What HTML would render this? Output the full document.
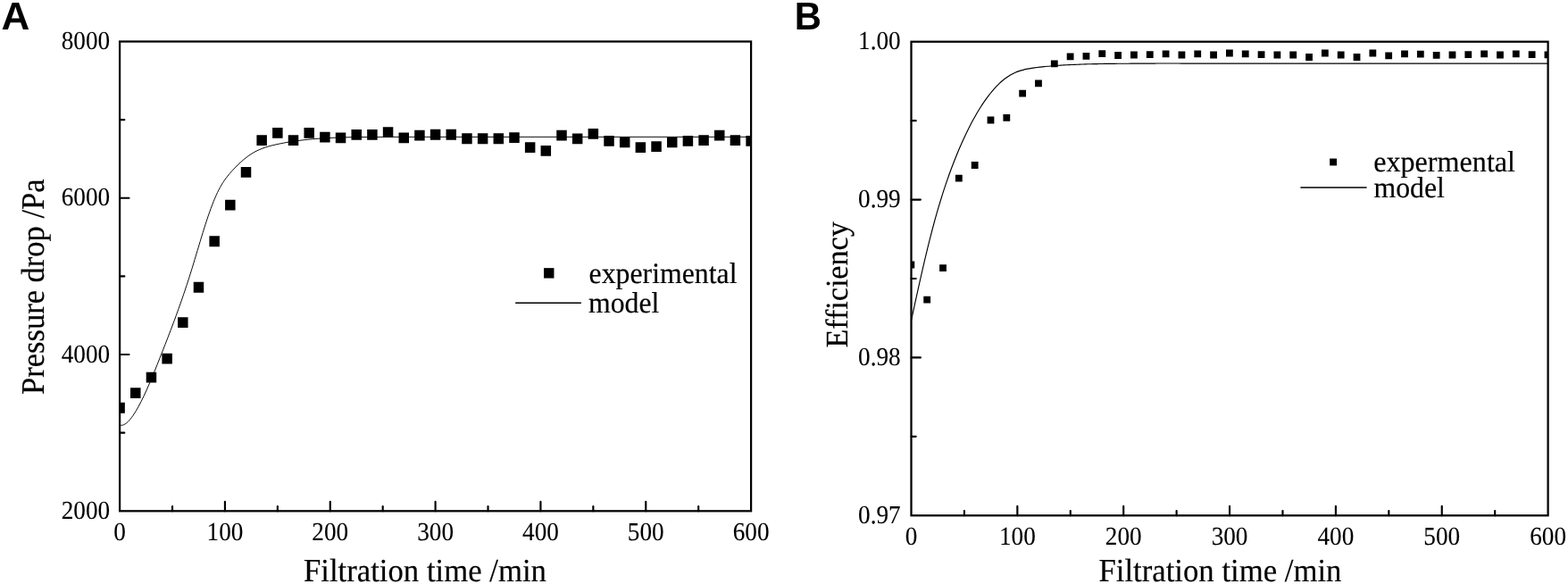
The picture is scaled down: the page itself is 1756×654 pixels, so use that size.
<!DOCTYPE html>
<html lang="en">
<head>
<meta charset="utf-8">
<title>Figure: pressure drop and efficiency vs filtration time</title>
<style>
html,body{margin:0;padding:0;background:#fff;}
body{width:1756px;height:654px;overflow:hidden;}
svg{display:block;}
</style>
</head>
<body>
<svg width="1756" height="654" viewBox="0 0 1756 654" font-family='"Liberation Serif", serif' fill="#000" text-rendering="geometricPrecision">
<rect width="1756" height="654" fill="#fff"/>
<defs>
<clipPath id="ca"><rect x="134.1" y="46.5" width="707.00" height="525.80"/></clipPath>
<clipPath id="cb"><rect x="1020.5" y="46.7" width="713.10" height="530.60"/></clipPath>
</defs>
<g font-family='"Liberation Sans", sans-serif' font-weight="bold">
<text transform="translate(1.40 32.60) scale(1.008 1)" font-size="43.7">A</text>
<text transform="translate(889.80 32.60) scale(0.955 1)" font-size="43.7">B</text>
</g>
<g clip-path="url(#ca)">
<path d="M134.10 476.25C134.60 476.24 136.10 476.40 137.10 476.17C138.10 475.94 139.10 475.48 140.10 474.87C141.10 474.26 142.10 473.45 143.10 472.51C144.10 471.57 145.10 470.46 146.10 469.23C147.10 468.01 148.10 466.64 149.10 465.19C150.10 463.73 151.10 462.16 152.10 460.51C153.10 458.86 154.10 457.11 155.10 455.29C156.10 453.47 157.10 451.56 158.10 449.59C159.10 447.61 160.10 445.56 161.10 443.45C162.10 441.35 163.10 439.17 164.10 436.94C165.10 434.72 166.10 432.44 167.10 430.12C168.10 427.80 169.10 425.42 170.10 423.02C171.10 420.62 172.10 418.18 173.10 415.72C174.10 413.26 175.10 410.76 176.10 408.26C177.10 405.75 178.10 403.23 179.10 400.70C180.10 398.17 181.10 395.63 182.10 393.09C183.10 390.54 184.10 387.99 185.10 385.43C186.10 382.86 187.10 380.29 188.10 377.70C189.10 375.10 190.10 372.50 191.10 369.87C192.10 367.24 193.10 364.59 194.10 361.91C195.10 359.23 196.10 356.54 197.10 353.80C198.10 351.07 199.10 348.31 200.10 345.52C201.10 342.72 202.10 339.89 203.10 337.03C204.10 334.16 205.10 331.25 206.10 328.30C207.10 325.35 208.10 322.37 209.10 319.33C210.10 316.29 211.10 313.20 212.10 310.06C213.10 306.93 214.10 303.73 215.10 300.49C216.10 297.25 217.10 293.94 218.10 290.62C219.10 287.30 220.10 283.93 221.10 280.59C222.10 277.24 223.10 273.87 224.10 270.55C225.10 267.23 226.10 263.91 227.10 260.67C228.10 257.43 229.10 254.21 230.10 251.11C231.10 248.01 232.10 244.96 233.10 242.04C234.10 239.12 235.10 236.29 236.10 233.58C237.10 230.87 238.10 228.26 239.10 225.78C240.10 223.31 241.10 220.94 242.10 218.72C243.10 216.49 244.10 214.39 245.10 212.43C246.10 210.48 247.10 208.68 248.10 206.98C249.10 205.29 250.10 203.75 251.10 202.29C252.10 200.82 253.10 199.48 254.10 198.19C255.10 196.89 256.10 195.70 257.10 194.53C258.10 193.36 259.10 192.26 260.10 191.17C261.10 190.08 262.10 189.01 263.10 187.98C264.10 186.94 265.10 185.92 266.10 184.94C267.10 183.95 268.10 183.00 269.10 182.07C270.10 181.15 271.10 180.25 272.10 179.39C273.10 178.53 274.10 177.70 275.10 176.91C276.10 176.12 277.10 175.36 278.10 174.64C279.10 173.92 280.10 173.24 281.10 172.60C282.10 171.95 283.10 171.35 284.10 170.78C285.10 170.21 286.10 169.68 287.10 169.17C288.10 168.67 289.10 168.20 290.10 167.75C291.10 167.31 292.10 166.89 293.10 166.50C294.10 166.11 295.10 165.74 296.10 165.40C297.10 165.05 298.10 164.73 299.10 164.42C300.10 164.12 301.10 163.83 302.10 163.56C303.10 163.29 304.10 163.03 305.10 162.78C306.10 162.54 307.10 162.30 308.10 162.08C309.10 161.85 310.10 161.63 311.10 161.42C312.10 161.20 313.10 161.00 314.10 160.80C315.10 160.60 316.10 160.40 317.10 160.21C318.10 160.02 319.10 159.84 320.10 159.66C321.10 159.48 322.10 159.31 323.10 159.14C324.10 158.97 325.10 158.81 326.10 158.65C327.10 158.49 328.10 158.34 329.10 158.19C330.10 158.04 331.10 157.90 332.10 157.76C333.10 157.62 334.10 157.49 335.10 157.36C336.10 157.23 337.10 157.11 338.10 156.99C339.10 156.87 340.10 156.75 341.10 156.64C342.10 156.53 343.10 156.42 344.10 156.32C345.10 156.22 346.10 156.12 347.10 156.02C348.10 155.93 349.10 155.83 350.10 155.75C351.10 155.66 352.10 155.57 353.10 155.49C354.10 155.41 355.10 155.33 356.10 155.26C357.10 155.19 358.10 155.11 359.10 155.05C360.10 154.98 361.10 154.91 362.10 154.85C363.10 154.79 364.10 154.73 365.10 154.67C366.10 154.62 367.10 154.56 368.10 154.51C369.10 154.46 370.10 154.41 371.10 154.37C372.10 154.32 373.10 154.28 374.10 154.24C375.10 154.19 376.10 154.16 377.10 154.12C378.10 154.08 379.10 154.05 380.10 154.02C381.10 153.98 382.10 153.95 383.10 153.92C384.10 153.90 385.10 153.87 386.10 153.84C387.10 153.82 388.10 153.80 389.10 153.77C390.10 153.75 391.10 153.73 392.10 153.71C393.10 153.70 394.10 153.68 395.10 153.66C396.10 153.65 397.10 153.63 398.10 153.62C399.10 153.61 400.10 153.59 401.10 153.58C402.10 153.57 403.10 153.56 404.10 153.55C405.10 153.54 406.10 153.54 407.10 153.53C408.10 153.52 409.10 153.51 410.10 153.51C411.10 153.50 412.10 153.50 413.10 153.49C414.10 153.49 415.10 153.48 416.10 153.48C417.10 153.47 418.10 153.47 419.10 153.46C420.10 153.46 421.10 153.46 422.10 153.45C423.10 153.45 424.10 153.44 425.10 153.44C426.10 153.44 427.10 153.43 428.10 153.43C429.10 153.42 430.10 153.42 431.10 153.42C432.10 153.41 433.10 153.41 434.10 153.40C435.10 153.40 436.10 153.40 437.10 153.39C438.10 153.39 439.10 153.39 440.10 153.38C441.10 153.38 442.10 153.38 443.10 153.38C444.10 153.37 445.10 153.37 446.10 153.37C447.10 153.37 448.10 153.37 449.10 153.36C450.10 153.36 451.10 153.36 452.10 153.36C453.10 153.36 454.10 153.36 455.10 153.36C456.10 153.36 457.10 153.35 458.10 153.35C459.10 153.35 460.10 153.35 461.10 153.35C462.10 153.35 463.10 153.35 464.10 153.35C465.10 153.35 466.10 153.35 467.10 153.35C468.10 153.35 469.10 153.35 470.10 153.35C471.10 153.35 472.10 153.35 473.10 153.35C474.10 153.35 475.10 153.35 476.10 153.35C477.10 153.35 478.60 153.35 479.10 153.35L480.00 153.35L841.10 153.35" fill="none" stroke="#000" stroke-width="0.95"/>
<path d="M128.35 450.85h11.5v11.8h-11.5zM146.02 434.15h11.5v11.8h-11.5zM163.70 416.75h11.5v11.8h-11.5zM181.38 395.75h11.5v11.8h-11.5zM199.05 355.15h11.5v11.8h-11.5zM216.72 315.85h11.5v11.8h-11.5zM234.40 264.35h11.5v11.8h-11.5zM252.07 223.75h11.5v11.8h-11.5zM269.75 186.95h11.5v11.8h-11.5zM287.42 151.15h11.5v11.8h-11.5zM305.10 142.95h11.5v11.8h-11.5zM322.77 151.15h11.5v11.8h-11.5zM340.45 143.05h11.5v11.8h-11.5zM358.12 147.65h11.5v11.8h-11.5zM375.80 148.55h11.5v11.8h-11.5zM393.48 145.05h11.5v11.8h-11.5zM411.15 145.05h11.5v11.8h-11.5zM428.82 142.25h11.5v11.8h-11.5zM446.50 148.55h11.5v11.8h-11.5zM464.17 145.75h11.5v11.8h-11.5zM481.85 144.85h11.5v11.8h-11.5zM499.52 144.85h11.5v11.8h-11.5zM517.20 149.35h11.5v11.8h-11.5zM534.88 149.35h11.5v11.8h-11.5zM552.55 149.35h11.5v11.8h-11.5zM570.22 148.25h11.5v11.8h-11.5zM587.90 159.15h11.5v11.8h-11.5zM605.57 163.05h11.5v11.8h-11.5zM623.25 145.75h11.5v11.8h-11.5zM640.92 149.45h11.5v11.8h-11.5zM658.60 144.05h11.5v11.8h-11.5zM676.27 151.95h11.5v11.8h-11.5zM693.95 153.55h11.5v11.8h-11.5zM711.62 159.15h11.5v11.8h-11.5zM729.30 158.25h11.5v11.8h-11.5zM746.98 153.55h11.5v11.8h-11.5zM764.65 151.95h11.5v11.8h-11.5zM782.32 151.15h11.5v11.8h-11.5zM800.00 145.75h11.5v11.8h-11.5zM817.67 151.15h11.5v11.8h-11.5zM835.35 151.95h11.5v11.8h-11.5z"/>
</g>
<rect x="134.1" y="46.5" width="707.00" height="525.80" fill="none" stroke="#000" stroke-width="2.25"/>
<text transform="translate(134.10 604.90) scale(0.937 1)" font-size="29.06" text-anchor="middle" stroke="#000" stroke-width="0.1">0</text>
<text transform="translate(251.93 604.90) scale(0.937 1)" font-size="29.06" text-anchor="middle" stroke="#000" stroke-width="0.1">100</text>
<text transform="translate(369.77 604.90) scale(0.937 1)" font-size="29.06" text-anchor="middle" stroke="#000" stroke-width="0.1">200</text>
<text transform="translate(487.60 604.90) scale(0.937 1)" font-size="29.06" text-anchor="middle" stroke="#000" stroke-width="0.1">300</text>
<text transform="translate(605.43 604.90) scale(0.937 1)" font-size="29.06" text-anchor="middle" stroke="#000" stroke-width="0.1">400</text>
<text transform="translate(723.27 604.90) scale(0.937 1)" font-size="29.06" text-anchor="middle" stroke="#000" stroke-width="0.1">500</text>
<text transform="translate(841.10 604.90) scale(0.937 1)" font-size="29.06" text-anchor="middle" stroke="#000" stroke-width="0.1">600</text>
<path d="M193.02 572.3V567.10M251.93 572.3V561.90M310.85 572.3V567.10M369.77 572.3V561.90M428.68 572.3V567.10M487.60 572.3V561.90M546.52 572.3V567.10M605.43 572.3V561.90M664.35 572.3V567.10M723.27 572.3V561.90M782.18 572.3V567.10" fill="none" stroke="#000" stroke-width="2.15" stroke-linecap="round"/>
<text transform="translate(123.20 55.10) scale(0.937 1)" font-size="29.06" text-anchor="end" stroke="#000" stroke-width="0.1">8000</text>
<text transform="translate(123.20 230.37) scale(0.937 1)" font-size="29.06" text-anchor="end" stroke="#000" stroke-width="0.1">6000</text>
<text transform="translate(123.20 405.63) scale(0.937 1)" font-size="29.06" text-anchor="end" stroke="#000" stroke-width="0.1">4000</text>
<text transform="translate(123.20 580.90) scale(0.937 1)" font-size="29.06" text-anchor="end" stroke="#000" stroke-width="0.1">2000</text>
<path d="M134.1 134.13H139.30M134.1 221.77H144.50M134.1 309.40H139.30M134.1 397.03H144.50M134.1 484.67H139.30" fill="none" stroke="#000" stroke-width="2.15" stroke-linecap="round"/>
<text transform="translate(340.00 650.60) scale(0.949 1)" font-size="36.6" stroke="#000" stroke-width="0.18">Filtration time /min</text>
<text transform="translate(49.00 442.00) rotate(-90) scale(0.9437 1)" font-size="36.6" stroke="#000" stroke-width="0.18">Pressure drop /Pa</text>
<rect x="609.05" y="300.15" width="11.4" height="11.4"/>
<path d="M577.2 339.3H650.9" stroke="#000" stroke-width="1.4"/>
<text transform="translate(659.60 316.50) scale(0.963 1)" font-size="33.0" stroke="#000" stroke-width="0.18">experimental</text>
<text transform="translate(659.00 349.70) scale(0.963 1)" font-size="33.0" stroke="#000" stroke-width="0.18">model</text>
<g clip-path="url(#cb)">
<path d="M1020.50 359.14C1021.00 356.81 1022.50 349.77 1023.50 345.14C1024.50 340.50 1025.50 335.90 1026.50 331.34C1027.50 326.78 1028.50 322.25 1029.50 317.79C1030.50 313.32 1031.50 308.90 1032.50 304.54C1033.50 300.18 1034.50 295.87 1035.50 291.64C1036.50 287.40 1037.50 283.22 1038.50 279.13C1039.50 275.03 1040.50 271.01 1041.50 267.07C1042.50 263.13 1043.50 259.27 1044.50 255.50C1045.50 251.73 1046.50 248.06 1047.50 244.47C1048.50 240.88 1049.50 237.38 1050.50 233.96C1051.50 230.54 1052.50 227.22 1053.50 223.96C1054.50 220.71 1055.50 217.54 1056.50 214.44C1057.50 211.35 1058.50 208.33 1059.50 205.38C1060.50 202.43 1061.50 199.56 1062.50 196.75C1063.50 193.94 1064.50 191.20 1065.50 188.52C1066.50 185.84 1067.50 183.23 1068.50 180.68C1069.50 178.12 1070.50 175.63 1071.50 173.19C1072.50 170.75 1073.50 168.37 1074.50 166.04C1075.50 163.71 1076.50 161.43 1077.50 159.20C1078.50 156.97 1079.50 154.79 1080.50 152.66C1081.50 150.53 1082.50 148.45 1083.50 146.41C1084.50 144.38 1085.50 142.40 1086.50 140.46C1087.50 138.53 1088.50 136.64 1089.50 134.80C1090.50 132.96 1091.50 131.17 1092.50 129.42C1093.50 127.67 1094.50 125.97 1095.50 124.32C1096.50 122.67 1097.50 121.06 1098.50 119.49C1099.50 117.93 1100.50 116.41 1101.50 114.94C1102.50 113.47 1103.50 112.04 1104.50 110.65C1105.50 109.27 1106.50 107.93 1107.50 106.63C1108.50 105.33 1109.50 104.08 1110.50 102.87C1111.50 101.66 1112.50 100.49 1113.50 99.37C1114.50 98.25 1115.50 97.17 1116.50 96.14C1117.50 95.11 1118.50 94.12 1119.50 93.18C1120.50 92.24 1121.50 91.34 1122.50 90.48C1123.50 89.63 1124.50 88.82 1125.50 88.06C1126.50 87.30 1127.50 86.58 1128.50 85.91C1129.50 85.24 1130.50 84.61 1131.50 84.03C1132.50 83.45 1133.50 82.91 1134.50 82.41C1135.50 81.92 1136.50 81.46 1137.50 81.04C1138.50 80.61 1139.50 80.23 1140.50 79.87C1141.50 79.51 1142.50 79.19 1143.50 78.89C1144.50 78.59 1145.50 78.32 1146.50 78.07C1147.50 77.82 1148.50 77.60 1149.50 77.39C1150.50 77.18 1151.50 77.00 1152.50 76.82C1153.50 76.65 1154.50 76.49 1155.50 76.34C1156.50 76.19 1157.50 76.05 1158.50 75.92C1159.50 75.79 1160.50 75.66 1161.50 75.54C1162.50 75.42 1163.50 75.30 1164.50 75.19C1165.50 75.07 1166.50 74.96 1167.50 74.85C1168.50 74.75 1169.50 74.64 1170.50 74.54C1171.50 74.44 1172.50 74.35 1173.50 74.26C1174.50 74.16 1175.50 74.07 1176.50 73.99C1177.50 73.90 1178.50 73.82 1179.50 73.74C1180.50 73.66 1181.50 73.58 1182.50 73.51C1183.50 73.43 1184.50 73.36 1185.50 73.30C1186.50 73.23 1187.50 73.16 1188.50 73.10C1189.50 73.04 1190.50 72.97 1191.50 72.92C1192.50 72.86 1193.50 72.80 1194.50 72.75C1195.50 72.69 1196.50 72.64 1197.50 72.59C1198.50 72.54 1199.50 72.50 1200.50 72.45C1201.50 72.40 1202.50 72.36 1203.50 72.32C1204.50 72.28 1205.50 72.24 1206.50 72.20C1207.50 72.16 1208.50 72.12 1209.50 72.08C1210.50 72.05 1211.50 72.01 1212.50 71.98C1213.50 71.95 1214.50 71.92 1215.50 71.89C1216.50 71.86 1217.50 71.83 1218.50 71.80C1219.50 71.78 1220.50 71.75 1221.50 71.73C1222.50 71.70 1223.50 71.68 1224.50 71.66C1225.50 71.64 1226.50 71.61 1227.50 71.59C1228.50 71.57 1229.50 71.56 1230.50 71.54C1231.50 71.52 1232.50 71.50 1233.50 71.49C1234.50 71.47 1235.50 71.46 1236.50 71.44C1237.50 71.43 1238.50 71.41 1239.50 71.40C1240.50 71.39 1241.50 71.38 1242.50 71.37C1243.50 71.36 1244.50 71.34 1245.50 71.33C1246.50 71.32 1247.50 71.31 1248.50 71.31C1249.50 71.30 1250.50 71.29 1251.50 71.28C1252.50 71.27 1253.50 71.26 1254.50 71.26C1255.50 71.25 1256.50 71.24 1257.50 71.23C1258.50 71.23 1259.50 71.22 1260.50 71.21C1261.50 71.21 1262.50 71.20 1263.50 71.20C1264.50 71.19 1265.50 71.18 1266.50 71.18C1267.50 71.17 1268.50 71.16 1269.50 71.16C1270.50 71.15 1271.50 71.15 1272.50 71.14C1273.50 71.14 1274.50 71.13 1275.50 71.13C1276.50 71.12 1277.50 71.12 1278.50 71.11C1279.50 71.11 1280.50 71.10 1281.50 71.10C1282.50 71.09 1283.50 71.09 1284.50 71.08C1285.50 71.08 1286.50 71.08 1287.50 71.07C1288.50 71.07 1289.50 71.06 1290.50 71.06C1291.50 71.06 1292.50 71.05 1293.50 71.05C1294.50 71.05 1295.50 71.04 1296.50 71.04C1297.50 71.04 1298.50 71.04 1299.50 71.03C1300.50 71.03 1301.50 71.03 1302.50 71.03C1303.50 71.03 1304.50 71.03 1305.50 71.03C1306.50 71.03 1307.50 71.03 1308.50 71.03C1309.50 71.03 1310.50 71.03 1311.50 71.03C1312.50 71.03 1313.50 71.03 1314.50 71.03C1315.50 71.03 1316.50 71.04 1317.50 71.04C1318.50 71.04 1319.50 71.04 1320.50 71.04C1321.50 71.05 1322.50 71.05 1323.50 71.05C1324.50 71.05 1325.50 71.06 1326.50 71.06C1327.50 71.06 1328.50 71.06 1329.50 71.07C1330.50 71.07 1331.50 71.07 1332.50 71.07C1333.50 71.08 1334.50 71.08 1335.50 71.08C1336.50 71.08 1337.50 71.09 1338.50 71.09C1339.50 71.09 1340.50 71.09 1341.50 71.09C1342.50 71.09 1343.50 71.10 1344.50 71.10C1345.50 71.10 1347.00 71.10 1347.50 71.10L1350.00 71.10L1733.60 71.10" fill="none" stroke="#000" stroke-width="1.15"/>
<path d="M1016.45 292.60h7.8v7.8h-7.8zM1034.28 331.80h7.8v7.8h-7.8zM1052.11 296.30h7.8v7.8h-7.8zM1069.93 195.70h7.8v7.8h-7.8zM1087.76 181.10h7.8v7.8h-7.8zM1105.59 130.60h7.8v7.8h-7.8zM1123.41 128.00h7.8v7.8h-7.8zM1141.24 100.80h7.8v7.8h-7.8zM1159.07 89.40h7.8v7.8h-7.8zM1176.90 67.50h7.8v7.8h-7.8zM1194.72 59.40h7.8v7.8h-7.8zM1212.55 58.90h7.8v7.8h-7.8zM1230.38 56.20h7.8v7.8h-7.8zM1248.21 58.10h7.8v7.8h-7.8zM1266.03 57.60h7.8v7.8h-7.8zM1283.86 57.30h7.8v7.8h-7.8zM1301.69 56.50h7.8v7.8h-7.8zM1319.52 57.60h7.8v7.8h-7.8zM1337.34 56.50h7.8v7.8h-7.8zM1355.17 57.60h7.8v7.8h-7.8zM1373.00 55.60h7.8v7.8h-7.8zM1390.83 56.40h7.8v7.8h-7.8zM1408.65 57.30h7.8v7.8h-7.8zM1426.48 57.60h7.8v7.8h-7.8zM1444.31 57.60h7.8v7.8h-7.8zM1462.14 60.10h7.8v7.8h-7.8zM1479.96 55.60h7.8v7.8h-7.8zM1497.79 57.60h7.8v7.8h-7.8zM1515.62 60.10h7.8v7.8h-7.8zM1533.45 55.60h7.8v7.8h-7.8zM1551.27 58.50h7.8v7.8h-7.8zM1569.10 56.40h7.8v7.8h-7.8zM1586.93 56.80h7.8v7.8h-7.8zM1604.76 58.00h7.8v7.8h-7.8zM1622.59 57.60h7.8v7.8h-7.8zM1640.41 57.30h7.8v7.8h-7.8zM1658.24 56.40h7.8v7.8h-7.8zM1676.07 57.60h7.8v7.8h-7.8zM1693.89 56.40h7.8v7.8h-7.8zM1711.72 57.30h7.8v7.8h-7.8zM1729.55 57.40h7.8v7.8h-7.8z"/>
</g>
<rect x="1020.5" y="46.7" width="713.10" height="530.60" fill="none" stroke="#000" stroke-width="2.25"/>
<text transform="translate(1020.50 609.70) scale(0.937 1)" font-size="29.06" text-anchor="middle" stroke="#000" stroke-width="0.1">0</text>
<text transform="translate(1139.35 609.70) scale(0.937 1)" font-size="29.06" text-anchor="middle" stroke="#000" stroke-width="0.1">100</text>
<text transform="translate(1258.20 609.70) scale(0.937 1)" font-size="29.06" text-anchor="middle" stroke="#000" stroke-width="0.1">200</text>
<text transform="translate(1377.05 609.70) scale(0.937 1)" font-size="29.06" text-anchor="middle" stroke="#000" stroke-width="0.1">300</text>
<text transform="translate(1495.90 609.70) scale(0.937 1)" font-size="29.06" text-anchor="middle" stroke="#000" stroke-width="0.1">400</text>
<text transform="translate(1614.75 609.70) scale(0.937 1)" font-size="29.06" text-anchor="middle" stroke="#000" stroke-width="0.1">500</text>
<text transform="translate(1733.60 609.70) scale(0.937 1)" font-size="29.06" text-anchor="middle" stroke="#000" stroke-width="0.1">600</text>
<path d="M1079.92 577.3V572.10M1139.35 577.3V566.90M1198.78 577.3V572.10M1258.20 577.3V566.90M1317.62 577.3V572.10M1377.05 577.3V566.90M1436.47 577.3V572.10M1495.90 577.3V566.90M1555.32 577.3V572.10M1614.75 577.3V566.90M1674.17 577.3V572.10" fill="none" stroke="#000" stroke-width="2.15" stroke-linecap="round"/>
<text transform="translate(1008.70 55.30) scale(0.937 1)" font-size="29.06" text-anchor="end" stroke="#000" stroke-width="0.1">1.00</text>
<text transform="translate(1008.70 232.17) scale(0.937 1)" font-size="29.06" text-anchor="end" stroke="#000" stroke-width="0.1">0.99</text>
<text transform="translate(1008.70 409.03) scale(0.937 1)" font-size="29.06" text-anchor="end" stroke="#000" stroke-width="0.1">0.98</text>
<text transform="translate(1008.70 585.90) scale(0.937 1)" font-size="29.06" text-anchor="end" stroke="#000" stroke-width="0.1">0.97</text>
<path d="M1020.5 135.13H1025.70M1020.5 223.57H1030.90M1020.5 312.00H1025.70M1020.5 400.43H1030.90M1020.5 488.87H1025.70" fill="none" stroke="#000" stroke-width="2.15" stroke-linecap="round"/>
<text transform="translate(1230.50 650.60) scale(0.949 1)" font-size="36.6" stroke="#000" stroke-width="0.18">Filtration time /min</text>
<text transform="translate(949.00 389.60) rotate(-90) scale(0.9685 1)" font-size="35.2" stroke="#000" stroke-width="0.18">Efficiency</text>
<rect x="1489.15" y="177.55" width="7.9" height="7.9"/>
<path d="M1456.4 210.0H1530.6" stroke="#000" stroke-width="1.4"/>
<text transform="translate(1538.20 191.70) scale(0.974 1)" font-size="33.0" stroke="#000" stroke-width="0.18">expermental</text>
<text transform="translate(1538.50 220.50) scale(0.963 1)" font-size="33.0" stroke="#000" stroke-width="0.18">model</text>
</svg>
</body>
</html>
